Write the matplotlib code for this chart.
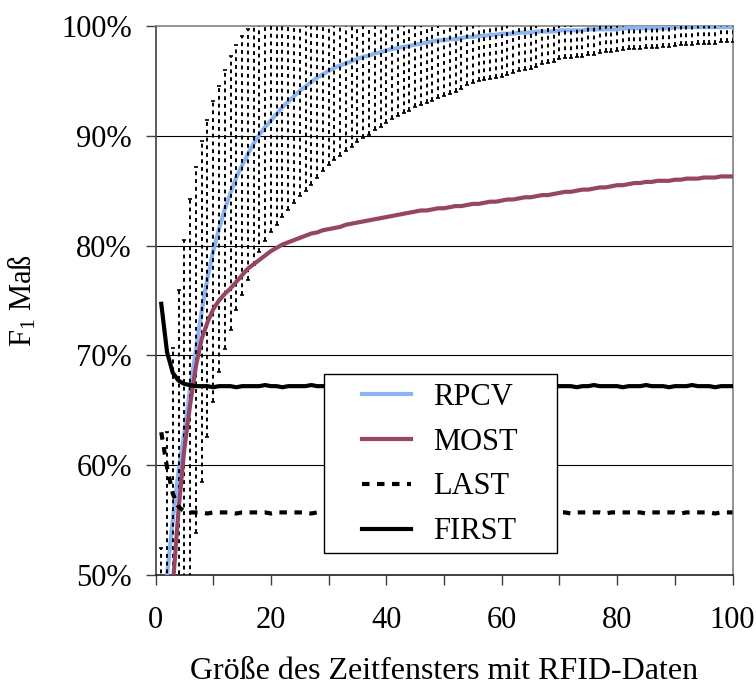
import matplotlib
matplotlib.use('Agg')
import matplotlib.pyplot as plt
from matplotlib.ticker import FixedLocator, FuncFormatter

# window size (x) and F1 values in percent
window = list(range(1, 101))

rpcv = [42.0, 50.0, 55.0, 59.5, 63.0, 67.0, 70.5, 74.0, 77.0, 79.5,
        81.5, 83.3, 84.8, 86.2, 87.3, 88.3, 89.3, 90.1, 90.8, 91.4,
        92.0, 92.6, 93.1, 93.6, 94.1, 94.5, 94.9, 95.3, 95.6, 95.9,
        96.2, 96.4, 96.6, 96.8, 97.0, 97.2, 97.3, 97.5, 97.6, 97.8,
        97.9, 98.0, 98.1, 98.2, 98.3, 98.4, 98.5, 98.6, 98.7, 98.7,
        98.8, 98.8, 98.9, 99.0, 99.0, 99.1, 99.1, 99.2, 99.2, 99.3,
        99.3, 99.3, 99.4, 99.4, 99.4, 99.5, 99.5, 99.5, 99.5, 99.6,
        99.6, 99.6, 99.6, 99.6, 99.7, 99.7, 99.7, 99.7, 99.7, 99.7,
        99.8, 99.8, 99.8, 99.8, 99.8, 99.8, 99.8, 99.8, 99.8, 99.9,
        99.9, 99.9, 99.9, 99.9, 99.9, 99.9, 99.9, 99.9, 99.9, 99.9]

rpcv_err = [10.5, 13.0, 15.7, 16.5, 17.5, 17.2, 16.7, 15.5, 14.4, 13.7,
            13.0, 12.7, 12.5, 12.1, 11.8, 11.4, 11.1, 10.7, 10.4, 10.2,
            10.1, 10.0, 9.9, 9.7, 9.6, 9.5, 9.4, 9.1, 8.8, 8.6,
            8.4, 8.2, 8.0, 7.8, 7.6, 7.4, 7.2, 7.0, 6.8, 6.6,
            6.4, 6.2, 6.0, 5.9, 5.7, 5.6, 5.5, 5.4, 5.3, 5.1,
            5.0, 4.8, 4.6, 4.4, 4.2, 4.1, 4.0, 4.0, 3.9, 3.9,
            3.8, 3.6, 3.5, 3.4, 3.3, 3.2, 3.0, 2.9, 2.8, 2.6,
            2.5, 2.5, 2.4, 2.4, 2.3, 2.3, 2.2, 2.1, 2.1, 2.0,
            2.0, 1.9, 1.9, 1.9, 1.8, 1.8, 1.8, 1.7, 1.7, 1.7,
            1.6, 1.6, 1.6, 1.5, 1.5, 1.5, 1.5, 1.4, 1.4, 1.4]

most = [40.0, 45.0, 49.0, 56.0, 61.5, 65.5, 69.0, 71.5, 73.0, 74.2,
        75.0, 75.6, 76.1, 76.7, 77.3, 77.9, 78.3, 78.7, 79.1, 79.5,
        79.8, 80.1, 80.3, 80.5, 80.7, 80.9, 81.1, 81.2, 81.4, 81.5,
        81.6, 81.7, 81.9, 82.0, 82.1, 82.2, 82.3, 82.4, 82.5, 82.6,
        82.7, 82.8, 82.9, 83.0, 83.1, 83.2, 83.2, 83.3, 83.4, 83.4,
        83.5, 83.6, 83.6, 83.7, 83.8, 83.8, 83.9, 84.0, 84.0, 84.1,
        84.2, 84.2, 84.3, 84.4, 84.4, 84.5, 84.6, 84.6, 84.7, 84.8,
        84.9, 84.9, 85.0, 85.1, 85.1, 85.2, 85.3, 85.3, 85.4, 85.5,
        85.5, 85.6, 85.7, 85.7, 85.8, 85.8, 85.9, 85.9, 85.9, 86.0,
        86.0, 86.1, 86.1, 86.1, 86.2, 86.2, 86.2, 86.3, 86.3, 86.3]

last = [63.0, 59.8, 57.4, 56.2, 55.8, 55.7, 55.7, 55.7, 55.6, 55.7,
        55.7, 55.7, 55.7, 55.6, 55.7, 55.7, 55.7, 55.7, 55.7, 55.6,
        55.7, 55.7, 55.7, 55.7, 55.7, 55.7, 55.6, 55.7, 55.7, 55.7,
        55.7, 55.7, 55.6, 55.7, 55.7, 55.7, 55.7, 55.7, 55.7, 55.6,
        55.7, 55.7, 55.7, 55.7, 55.6, 55.7, 55.7, 55.7, 55.7, 55.7,
        55.7, 55.6, 55.7, 55.7, 55.7, 55.7, 55.7, 55.7, 55.6, 55.7,
        55.7, 55.7, 55.7, 55.7, 55.6, 55.7, 55.7, 55.7, 55.7, 55.7,
        55.7, 55.6, 55.7, 55.7, 55.7, 55.7, 55.7, 55.6, 55.7, 55.7,
        55.7, 55.7, 55.7, 55.7, 55.6, 55.7, 55.7, 55.7, 55.7, 55.7,
        55.6, 55.7, 55.7, 55.7, 55.7, 55.7, 55.6, 55.7, 55.7, 55.7]

first = [74.7, 70.3, 68.4, 67.7, 67.4, 67.3, 67.2, 67.2, 67.2, 67.1,
         67.2, 67.2, 67.2, 67.1, 67.2, 67.2, 67.2, 67.2, 67.3, 67.2,
         67.2, 67.1, 67.2, 67.2, 67.2, 67.2, 67.3, 67.2, 67.2, 67.2,
         67.1, 67.2, 67.2, 67.2, 67.3, 67.2, 67.2, 67.2, 67.1, 67.2,
         67.2, 67.2, 67.2, 67.3, 67.2, 67.2, 67.1, 67.2, 67.2, 67.2,
         67.2, 67.3, 67.2, 67.2, 67.2, 67.1, 67.2, 67.2, 67.2, 67.3,
         67.2, 67.2, 67.2, 67.2, 67.1, 67.2, 67.2, 67.3, 67.2, 67.2,
         67.2, 67.2, 67.1, 67.2, 67.2, 67.3, 67.2, 67.2, 67.2, 67.2,
         67.1, 67.2, 67.2, 67.2, 67.3, 67.2, 67.2, 67.2, 67.1, 67.2,
         67.2, 67.2, 67.3, 67.2, 67.2, 67.2, 67.1, 67.2, 67.2, 67.2]

plt.rcParams['font.family'] = ['Liberation Serif', 'DejaVu Serif']
plt.rcParams['mathtext.fontset'] = 'custom'
plt.rcParams['mathtext.rm'] = 'Liberation Serif'
plt.rcParams['mathtext.it'] = 'Liberation Serif:italic'

W, H = 756, 689
fig = plt.figure(figsize=(W / 100, H / 100), dpi=100)
ax = fig.add_axes([155.5 / W, 1 - 575 / H, 577 / W, 549 / H])

c_rpcv = '#8cb4f0'
c_most = '#964664'

ax.plot(window, rpcv, color=c_rpcv, lw=3.0, label='RPCV', zorder=3)
eb = ax.errorbar(window, rpcv, yerr=rpcv_err, fmt='none', ecolor='black',
                 elinewidth=1.4, capsize=1.6, capthick=1.2, zorder=4)
eb[2][0].set_linestyle((0, (2, 2)))
ax.plot(window, most, color=c_most, lw=3.0, label='MOST', zorder=5)
ax.plot(window, last, color='black', lw=3.0, dashes=(1.8, 1.8), label='LAST', zorder=5)
ax.plot(window, first, color='black', lw=3.0, label='FIRST', zorder=5)

ax.set_xlim(0, 100)
ax.set_ylim(50, 100)

# horizontal grid lines
for yv in [60, 70, 80, 90]:
    ax.axhline(yv, color='black', lw=0.8, zorder=1)

ax.spines['top'].set_color('#808080')
ax.spines['right'].set_color('#808080')
ax.spines['left'].set_color('#404040')
ax.spines['bottom'].set_color('#202020')
for s in ax.spines.values():
    s.set_linewidth(1.2)

ax.set_xticks(range(0, 101, 20))
ax.xaxis.set_minor_locator(FixedLocator(range(10, 100, 20)))
ax.set_yticks(range(50, 101, 10))
ax.yaxis.set_major_formatter(FuncFormatter(lambda v, p: '%d%%' % v))
ax.tick_params(axis='both', which='both', direction='out', length=7, width=1.0,
               color='#404040', labelsize=22)
ax.tick_params(axis='x', pad=15)
ax.tick_params(axis='y', pad=10)

ax.set_xlabel('Größe des Zeitfensters mit RFID-Daten', fontsize=23, labelpad=16)
ax.set_ylabel('F$_1$ Maß', fontsize=22, labelpad=16)

# legend box (white, black border) drawn over the lines
box = plt.Rectangle((324 / W, 1 - 553 / H), 233 / W, 179 / H, transform=fig.transFigure,
                    facecolor='white', edgecolor='black', lw=1.0, zorder=9, clip_on=False)
ax.add_patch(box)
leg = ax.legend(loc='center left', bbox_to_anchor=(362 / W, 1 - 464.5 / H),
                bbox_transform=fig.transFigure, fontsize=22, frameon=False,
                handlelength=1.6, handletextpad=0.72, labelspacing=0.52,
                borderpad=0, borderaxespad=0)
leg.set_zorder(10)

fig.savefig('out.png', dpi=100)
